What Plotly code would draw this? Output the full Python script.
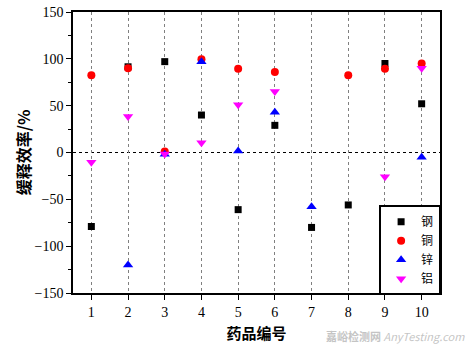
import plotly.graph_objects as go

# Drug sample numbers and inhibition efficiency (%) for each metal
drugs = [1, 2, 3, 4, 5, 6, 7, 8, 9, 10]
steel = [-79, 91.5, 97, 40, -61, 29, -80, -56, 95, 52]
copper = [82.5, 90, 1, 99.5, 89.5, 86, None, 82.5, 89.5, 95]
zinc = [None, -120, -2, 97, 1.5, 43, -58, None, None, -5]
aluminium = [-10.5, 38.5, -1.5, 10.5, 51, 65, None, None, -26, 90]

series = [
    ("钢", steel, "square", "black", 7),
    ("铜", copper, "circle", "red", 8),
    ("锌", zinc, "triangle-up", "blue", 9),
    ("铝", aluminium, "triangle-down", "magenta", 9),
]

fig = go.Figure()
for name, vals, sym, col, sz in series:
    fig.add_trace(go.Scatter(
        x=drugs, y=vals, mode="markers", name=name,
        marker=dict(symbol=sym, color=col, size=sz, line=dict(width=0)),
    ))

fig.add_hline(y=0, line=dict(color="black", width=1.2, dash="dot"), layer="below")

serif = "Liberation Serif, Times New Roman, serif"
cjk = "Noto Sans CJK SC"

fig.update_layout(
    width=468, height=350,
    margin=dict(l=73, r=28, t=12, b=57, autoexpand=False),
    plot_bgcolor="white", paper_bgcolor="white",
    showlegend=True,
    legend=dict(
        x=1.003, y=-0.008, xanchor="right", yanchor="bottom",
        bgcolor="white", bordercolor="black", borderwidth=2,
        font=dict(family=cjk, size=12, color="black"),
        itemwidth=30, tracegroupgap=0,
    ),
    xaxis=dict(
        range=[0.5, 10.5], tickvals=drugs, ticktext=[str(d) for d in drugs],
        showline=True, linecolor="black", linewidth=1.5, mirror=True,
        ticks="outside", ticklen=5, tickcolor="black",
        showgrid=True, gridcolor="gray", griddash="dot", gridwidth=1,
        zeroline=False, automargin=False,
        tickfont=dict(family=serif, size=14, color="black"),
        title=dict(text="药品编号", font=dict(family=cjk, size=15, color="black", weight="bold"), standoff=10),
    ),
    yaxis=dict(
        range=[-150, 150], tickvals=[-150, -100, -50, 0, 50, 100, 150],
        showline=True, linecolor="black", linewidth=1.5, mirror=True,
        ticks="outside", ticklen=5, tickcolor="black",
        minor=dict(dtick=25, ticks="outside", ticklen=3, tickcolor="black", showgrid=False),
        showgrid=False, zeroline=False, automargin=False,
        tickfont=dict(family=serif, size=14, color="black"),
        title=dict(text="缓释效率/%", font=dict(family=cjk, size=16, color="black", weight="bold"), standoff=0),
    ),
)

# Site watermark on a single line below the tick labels
fig.add_annotation(xref="paper", yref="paper", x=1.07, y=-0.12, xanchor="right", yanchor="top",
                   text="<b>嘉峪检测网</b> <i>AnyTesting.com</i>", showarrow=False, borderpad=0,
                   font=dict(family=cjk, size=11, color="rgba(170,170,170,0.7)"))

fig.write_html("out.html")
